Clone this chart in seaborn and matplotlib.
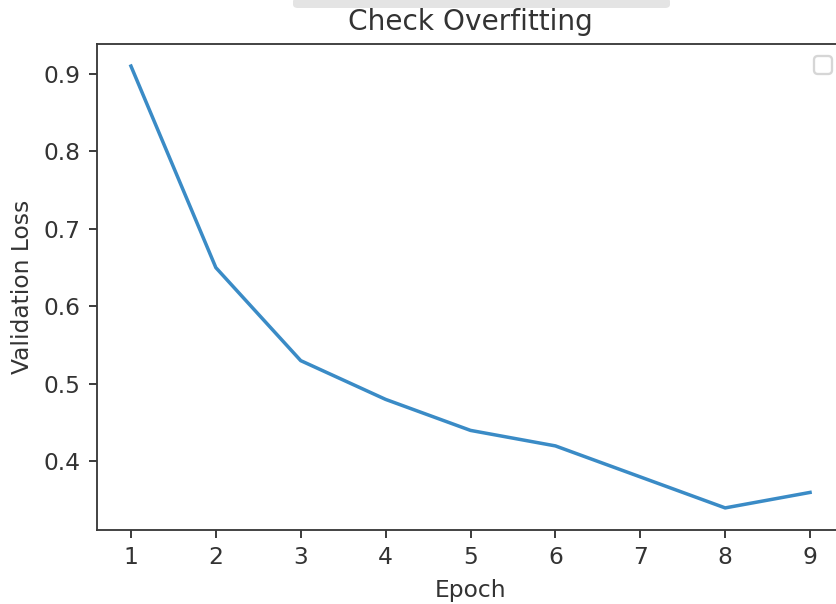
import pandas as pd
import matplotlib
matplotlib.use("Agg")
import matplotlib.pyplot as plt
import matplotlib.patches as mpatches
import seaborn as sns

# data
epochs = [1, 2, 3, 4, 5, 6, 7, 8, 9]
val_loss = [0.91, 0.65, 0.53, 0.48, 0.44, 0.42, 0.38, 0.34, 0.36]

df = pd.DataFrame({"Epoch": epochs, "Validation Loss": val_loss})

# screenshot is a bit soft, so text and spines read as dark grey
ink = "#333333"
plt.rcParams.update({
    "text.color": ink,
    "axes.labelcolor": ink,
    "axes.edgecolor": "#3a3a3a",
    "xtick.color": ink,
    "ytick.color": ink,
})

dpi = 168
fig = plt.figure(figsize=(836 / dpi, 604 / dpi), dpi=dpi)
# axes runs slightly past the right edge, like the cropped screenshot
ax = fig.add_axes([97 / 836, 74 / 604, 747 / 836, 486 / 604])

sns.lineplot(data=df, x="Epoch", y="Validation Loss", ax=ax, color="#3a8bc6")

ax.set_title("Check Overfitting")
ax.set_xlabel("Epoch")
ax.set_ylabel("Validation Loss")
ax.set_xticks(epochs)
ax.legend()  # empty legend box, as in the original

# faint grey strip at the top of the screenshot
fig.add_artist(mpatches.FancyBboxPatch((293 / 836, 596 / 604), 377 / 836, 10 / 604,
                                       boxstyle="round,pad=0,rounding_size=0.006",
                                       transform=fig.transFigure, facecolor="#e4e4e4",
                                       edgecolor="none"))

fig.savefig("out.png", dpi=dpi)
